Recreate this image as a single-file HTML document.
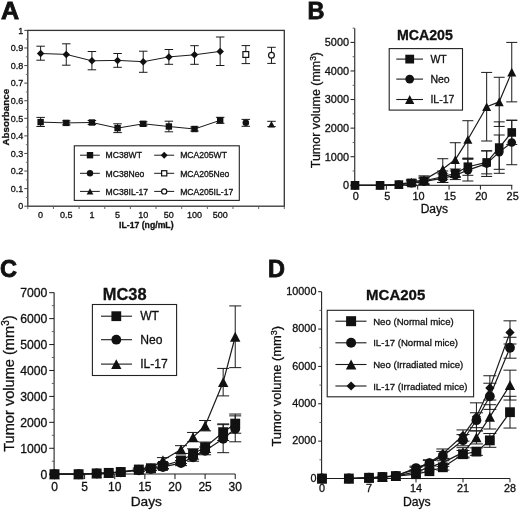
<!DOCTYPE html>
<html><head><meta charset="utf-8"><style>
html,body{margin:0;padding:0;background:#fff;width:520px;height:511px;overflow:hidden}
svg{display:block;filter:grayscale(1)}
text{font-family:"Liberation Sans", sans-serif;fill:#111;stroke:#111;stroke-width:0.3px}
</style></head><body>
<svg width="520" height="511" viewBox="0 0 520 511">
<rect width="520" height="511" fill="#fff"/>
<text transform="translate(1.0,18.9) scale(1.07,1)" font-size="23.5" font-weight="bold" style="stroke-width:0.8px">A</text>
<rect x="27.80" y="30.40" width="256.50" height="175.80" fill="none" stroke="#333" stroke-width="1.3"/>
<line x1="24.30" y1="206.20" x2="27.80" y2="206.20" stroke="#444" stroke-width="1.0"/>
<text x="23.30" y="209.40" font-size="9" text-anchor="end" font-weight="normal">0</text>
<line x1="24.30" y1="188.62" x2="27.80" y2="188.62" stroke="#444" stroke-width="1.0"/>
<text x="23.30" y="191.82" font-size="9" text-anchor="end" font-weight="normal">0.1</text>
<line x1="24.30" y1="171.04" x2="27.80" y2="171.04" stroke="#444" stroke-width="1.0"/>
<text x="23.30" y="174.24" font-size="9" text-anchor="end" font-weight="normal">0.2</text>
<line x1="24.30" y1="153.46" x2="27.80" y2="153.46" stroke="#444" stroke-width="1.0"/>
<text x="23.30" y="156.66" font-size="9" text-anchor="end" font-weight="normal">0.3</text>
<line x1="24.30" y1="135.88" x2="27.80" y2="135.88" stroke="#444" stroke-width="1.0"/>
<text x="23.30" y="139.08" font-size="9" text-anchor="end" font-weight="normal">0.4</text>
<line x1="24.30" y1="118.30" x2="27.80" y2="118.30" stroke="#444" stroke-width="1.0"/>
<text x="23.30" y="121.50" font-size="9" text-anchor="end" font-weight="normal">0.5</text>
<line x1="24.30" y1="100.72" x2="27.80" y2="100.72" stroke="#444" stroke-width="1.0"/>
<text x="23.30" y="103.92" font-size="9" text-anchor="end" font-weight="normal">0.6</text>
<line x1="24.30" y1="83.14" x2="27.80" y2="83.14" stroke="#444" stroke-width="1.0"/>
<text x="23.30" y="86.34" font-size="9" text-anchor="end" font-weight="normal">0.7</text>
<line x1="24.30" y1="65.56" x2="27.80" y2="65.56" stroke="#444" stroke-width="1.0"/>
<text x="23.30" y="68.76" font-size="9" text-anchor="end" font-weight="normal">0.8</text>
<line x1="24.30" y1="47.98" x2="27.80" y2="47.98" stroke="#444" stroke-width="1.0"/>
<text x="23.30" y="51.18" font-size="9" text-anchor="end" font-weight="normal">0.9</text>
<line x1="24.30" y1="30.40" x2="27.80" y2="30.40" stroke="#444" stroke-width="1.0"/>
<text x="23.30" y="33.60" font-size="9" text-anchor="end" font-weight="normal">1</text>
<line x1="25.80" y1="197.41" x2="27.80" y2="197.41" stroke="#666" stroke-width="0.9"/>
<line x1="25.80" y1="179.83" x2="27.80" y2="179.83" stroke="#666" stroke-width="0.9"/>
<line x1="25.80" y1="162.25" x2="27.80" y2="162.25" stroke="#666" stroke-width="0.9"/>
<line x1="25.80" y1="144.67" x2="27.80" y2="144.67" stroke="#666" stroke-width="0.9"/>
<line x1="25.80" y1="127.09" x2="27.80" y2="127.09" stroke="#666" stroke-width="0.9"/>
<line x1="25.80" y1="109.51" x2="27.80" y2="109.51" stroke="#666" stroke-width="0.9"/>
<line x1="25.80" y1="91.93" x2="27.80" y2="91.93" stroke="#666" stroke-width="0.9"/>
<line x1="25.80" y1="74.35" x2="27.80" y2="74.35" stroke="#666" stroke-width="0.9"/>
<line x1="25.80" y1="56.77" x2="27.80" y2="56.77" stroke="#666" stroke-width="0.9"/>
<line x1="25.80" y1="39.19" x2="27.80" y2="39.19" stroke="#666" stroke-width="0.9"/>
<line x1="27.80" y1="206.20" x2="27.80" y2="209.00" stroke="#555" stroke-width="0.9"/>
<line x1="53.45" y1="206.20" x2="53.45" y2="209.00" stroke="#555" stroke-width="0.9"/>
<line x1="79.10" y1="206.20" x2="79.10" y2="209.00" stroke="#555" stroke-width="0.9"/>
<line x1="104.75" y1="206.20" x2="104.75" y2="209.00" stroke="#555" stroke-width="0.9"/>
<line x1="130.40" y1="206.20" x2="130.40" y2="209.00" stroke="#555" stroke-width="0.9"/>
<line x1="156.05" y1="206.20" x2="156.05" y2="209.00" stroke="#555" stroke-width="0.9"/>
<line x1="181.70" y1="206.20" x2="181.70" y2="209.00" stroke="#555" stroke-width="0.9"/>
<line x1="207.35" y1="206.20" x2="207.35" y2="209.00" stroke="#555" stroke-width="0.9"/>
<line x1="233.00" y1="206.20" x2="233.00" y2="209.00" stroke="#555" stroke-width="0.9"/>
<line x1="258.65" y1="206.20" x2="258.65" y2="209.00" stroke="#555" stroke-width="0.9"/>
<line x1="284.30" y1="206.20" x2="284.30" y2="209.00" stroke="#555" stroke-width="0.9"/>
<text x="40.62" y="217.90" font-size="9" text-anchor="middle" font-weight="normal">0</text>
<text x="66.27" y="217.90" font-size="9" text-anchor="middle" font-weight="normal">0.5</text>
<text x="91.92" y="217.90" font-size="9" text-anchor="middle" font-weight="normal">1</text>
<text x="117.57" y="217.90" font-size="9" text-anchor="middle" font-weight="normal">5</text>
<text x="143.22" y="217.90" font-size="9" text-anchor="middle" font-weight="normal">10</text>
<text x="168.88" y="217.90" font-size="9" text-anchor="middle" font-weight="normal">50</text>
<text x="194.53" y="217.90" font-size="9" text-anchor="middle" font-weight="normal">100</text>
<text x="220.18" y="217.90" font-size="9" text-anchor="middle" font-weight="normal">500</text>
<text x="146.30" y="228.00" font-size="8.7" text-anchor="middle" font-weight="bold">IL-17 (ng/mL)</text>
<text transform="translate(8.6,117.2) rotate(-90)" font-size="9.8" font-weight="bold" text-anchor="middle">Absorbance</text>
<polyline points="40.62,53.50 66.27,54.40 91.92,60.80 117.57,60.40 143.22,61.70 168.88,56.90 194.53,54.80 220.18,51.40" fill="none" stroke="#1a1a1a" stroke-width="1.0" stroke-linejoin="round"/>
<polyline points="40.62,122.10 66.27,122.90 91.92,122.50 117.57,128.10 143.22,123.80 168.88,126.50 194.53,129.00 220.18,120.30" fill="none" stroke="#1a1a1a" stroke-width="1.0" stroke-linejoin="round"/>
<line x1="40.62" y1="46.20" x2="40.62" y2="60.20" stroke="#1a1a1a" stroke-width="1.0"/>
<line x1="36.38" y1="46.20" x2="44.88" y2="46.20" stroke="#1a1a1a" stroke-width="1.0"/>
<line x1="36.38" y1="60.20" x2="44.88" y2="60.20" stroke="#1a1a1a" stroke-width="1.0"/>
<polygon points="40.62,49.75 44.38,53.50 40.62,57.25 36.88,53.50" fill="#111"/>
<line x1="66.27" y1="43.80" x2="66.27" y2="65.20" stroke="#1a1a1a" stroke-width="1.0"/>
<line x1="62.02" y1="43.80" x2="70.52" y2="43.80" stroke="#1a1a1a" stroke-width="1.0"/>
<line x1="62.02" y1="65.20" x2="70.52" y2="65.20" stroke="#1a1a1a" stroke-width="1.0"/>
<polygon points="66.27,50.65 70.02,54.40 66.27,58.15 62.52,54.40" fill="#111"/>
<line x1="91.92" y1="51.50" x2="91.92" y2="69.80" stroke="#1a1a1a" stroke-width="1.0"/>
<line x1="87.67" y1="51.50" x2="96.17" y2="51.50" stroke="#1a1a1a" stroke-width="1.0"/>
<line x1="87.67" y1="69.80" x2="96.17" y2="69.80" stroke="#1a1a1a" stroke-width="1.0"/>
<polygon points="91.92,57.05 95.67,60.80 91.92,64.55 88.17,60.80" fill="#111"/>
<line x1="117.57" y1="53.50" x2="117.57" y2="67.30" stroke="#1a1a1a" stroke-width="1.0"/>
<line x1="113.32" y1="53.50" x2="121.82" y2="53.50" stroke="#1a1a1a" stroke-width="1.0"/>
<line x1="113.32" y1="67.30" x2="121.82" y2="67.30" stroke="#1a1a1a" stroke-width="1.0"/>
<polygon points="117.57,56.65 121.32,60.40 117.57,64.15 113.82,60.40" fill="#111"/>
<line x1="143.22" y1="51.20" x2="143.22" y2="72.30" stroke="#1a1a1a" stroke-width="1.0"/>
<line x1="138.97" y1="51.20" x2="147.47" y2="51.20" stroke="#1a1a1a" stroke-width="1.0"/>
<line x1="138.97" y1="72.30" x2="147.47" y2="72.30" stroke="#1a1a1a" stroke-width="1.0"/>
<polygon points="143.22,57.95 146.97,61.70 143.22,65.45 139.47,61.70" fill="#111"/>
<line x1="168.88" y1="49.50" x2="168.88" y2="64.30" stroke="#1a1a1a" stroke-width="1.0"/>
<line x1="164.62" y1="49.50" x2="173.12" y2="49.50" stroke="#1a1a1a" stroke-width="1.0"/>
<line x1="164.62" y1="64.30" x2="173.12" y2="64.30" stroke="#1a1a1a" stroke-width="1.0"/>
<polygon points="168.88,53.15 172.62,56.90 168.88,60.65 165.12,56.90" fill="#111"/>
<line x1="194.53" y1="45.70" x2="194.53" y2="64.30" stroke="#1a1a1a" stroke-width="1.0"/>
<line x1="190.28" y1="45.70" x2="198.78" y2="45.70" stroke="#1a1a1a" stroke-width="1.0"/>
<line x1="190.28" y1="64.30" x2="198.78" y2="64.30" stroke="#1a1a1a" stroke-width="1.0"/>
<polygon points="194.53,51.05 198.28,54.80 194.53,58.55 190.78,54.80" fill="#111"/>
<line x1="220.18" y1="37.00" x2="220.18" y2="65.50" stroke="#1a1a1a" stroke-width="1.0"/>
<line x1="215.93" y1="37.00" x2="224.43" y2="37.00" stroke="#1a1a1a" stroke-width="1.0"/>
<line x1="215.93" y1="65.50" x2="224.43" y2="65.50" stroke="#1a1a1a" stroke-width="1.0"/>
<polygon points="220.18,47.65 223.93,51.40 220.18,55.15 216.43,51.40" fill="#111"/>
<line x1="40.62" y1="117.40" x2="40.62" y2="126.50" stroke="#1a1a1a" stroke-width="1.0"/>
<line x1="36.38" y1="117.40" x2="44.88" y2="117.40" stroke="#1a1a1a" stroke-width="1.0"/>
<line x1="36.38" y1="126.50" x2="44.88" y2="126.50" stroke="#1a1a1a" stroke-width="1.0"/>
<rect x="37.42" y="118.90" width="6.40" height="6.40" fill="#111"/>
<line x1="66.27" y1="120.90" x2="66.27" y2="124.90" stroke="#1a1a1a" stroke-width="1.0"/>
<line x1="62.02" y1="120.90" x2="70.52" y2="120.90" stroke="#1a1a1a" stroke-width="1.0"/>
<line x1="62.02" y1="124.90" x2="70.52" y2="124.90" stroke="#1a1a1a" stroke-width="1.0"/>
<rect x="63.07" y="119.70" width="6.40" height="6.40" fill="#111"/>
<line x1="91.92" y1="120.50" x2="91.92" y2="124.50" stroke="#1a1a1a" stroke-width="1.0"/>
<line x1="87.67" y1="120.50" x2="96.17" y2="120.50" stroke="#1a1a1a" stroke-width="1.0"/>
<line x1="87.67" y1="124.50" x2="96.17" y2="124.50" stroke="#1a1a1a" stroke-width="1.0"/>
<rect x="88.72" y="119.30" width="6.40" height="6.40" fill="#111"/>
<line x1="117.57" y1="123.80" x2="117.57" y2="132.60" stroke="#1a1a1a" stroke-width="1.0"/>
<line x1="113.32" y1="123.80" x2="121.82" y2="123.80" stroke="#1a1a1a" stroke-width="1.0"/>
<line x1="113.32" y1="132.60" x2="121.82" y2="132.60" stroke="#1a1a1a" stroke-width="1.0"/>
<rect x="114.37" y="124.90" width="6.40" height="6.40" fill="#111"/>
<line x1="143.22" y1="121.80" x2="143.22" y2="125.80" stroke="#1a1a1a" stroke-width="1.0"/>
<line x1="138.97" y1="121.80" x2="147.47" y2="121.80" stroke="#1a1a1a" stroke-width="1.0"/>
<line x1="138.97" y1="125.80" x2="147.47" y2="125.80" stroke="#1a1a1a" stroke-width="1.0"/>
<rect x="140.03" y="120.60" width="6.40" height="6.40" fill="#111"/>
<line x1="168.88" y1="121.20" x2="168.88" y2="131.80" stroke="#1a1a1a" stroke-width="1.0"/>
<line x1="164.62" y1="121.20" x2="173.12" y2="121.20" stroke="#1a1a1a" stroke-width="1.0"/>
<line x1="164.62" y1="131.80" x2="173.12" y2="131.80" stroke="#1a1a1a" stroke-width="1.0"/>
<rect x="165.68" y="123.30" width="6.40" height="6.40" fill="#111"/>
<line x1="194.53" y1="127.00" x2="194.53" y2="131.00" stroke="#1a1a1a" stroke-width="1.0"/>
<line x1="190.28" y1="127.00" x2="198.78" y2="127.00" stroke="#1a1a1a" stroke-width="1.0"/>
<line x1="190.28" y1="131.00" x2="198.78" y2="131.00" stroke="#1a1a1a" stroke-width="1.0"/>
<rect x="191.33" y="125.80" width="6.40" height="6.40" fill="#111"/>
<line x1="220.18" y1="117.30" x2="220.18" y2="123.30" stroke="#1a1a1a" stroke-width="1.0"/>
<line x1="215.93" y1="117.30" x2="224.43" y2="117.30" stroke="#1a1a1a" stroke-width="1.0"/>
<line x1="215.93" y1="123.30" x2="224.43" y2="123.30" stroke="#1a1a1a" stroke-width="1.0"/>
<rect x="216.98" y="117.10" width="6.40" height="6.40" fill="#111"/>
<line x1="245.82" y1="45.60" x2="245.82" y2="63.60" stroke="#1a1a1a" stroke-width="1.0"/>
<line x1="241.57" y1="45.60" x2="250.07" y2="45.60" stroke="#1a1a1a" stroke-width="1.0"/>
<line x1="241.57" y1="63.60" x2="250.07" y2="63.60" stroke="#1a1a1a" stroke-width="1.0"/>
<rect x="242.92" y="51.60" width="5.80" height="5.80" fill="#fff" stroke="#111" stroke-width="1.2"/>
<line x1="271.47" y1="47.30" x2="271.47" y2="63.40" stroke="#1a1a1a" stroke-width="1.0"/>
<line x1="267.22" y1="47.30" x2="275.72" y2="47.30" stroke="#1a1a1a" stroke-width="1.0"/>
<line x1="267.22" y1="63.40" x2="275.72" y2="63.40" stroke="#1a1a1a" stroke-width="1.0"/>
<circle cx="271.47" cy="55.20" r="2.90" fill="#fff" stroke="#111" stroke-width="1.2"/>
<line x1="245.82" y1="119.40" x2="245.82" y2="126.30" stroke="#1a1a1a" stroke-width="1.0"/>
<line x1="241.57" y1="119.40" x2="250.07" y2="119.40" stroke="#1a1a1a" stroke-width="1.0"/>
<line x1="241.57" y1="126.30" x2="250.07" y2="126.30" stroke="#1a1a1a" stroke-width="1.0"/>
<circle cx="245.82" cy="122.80" r="3.30" fill="#111"/>
<line x1="271.47" y1="121.30" x2="271.47" y2="126.60" stroke="#1a1a1a" stroke-width="1.0"/>
<line x1="267.22" y1="121.30" x2="275.72" y2="121.30" stroke="#1a1a1a" stroke-width="1.0"/>
<line x1="267.22" y1="126.60" x2="275.72" y2="126.60" stroke="#1a1a1a" stroke-width="1.0"/>
<polygon points="271.47,121.00 274.94,127.60 268.01,127.60" fill="#111"/>
<rect x="74.30" y="145.80" width="165.00" height="54.60" fill="none" stroke="#222" stroke-width="1.1"/>
<line x1="80.00" y1="155.20" x2="99.80" y2="155.20" stroke="#1a1a1a" stroke-width="1.0"/>
<rect x="86.80" y="152.00" width="6.40" height="6.40" fill="#111"/>
<text x="105.60" y="158.40" font-size="8.6" text-anchor="start" font-weight="normal">MC38WT</text>
<line x1="154.20" y1="155.20" x2="174.20" y2="155.20" stroke="#1a1a1a" stroke-width="1.0"/>
<polygon points="164.20,151.76 167.64,155.20 164.20,158.64 160.76,155.20" fill="#111"/>
<text x="180.20" y="158.40" font-size="8.6" text-anchor="start" font-weight="normal">MCA205WT</text>
<line x1="80.00" y1="173.30" x2="99.80" y2="173.30" stroke="#1a1a1a" stroke-width="1.0"/>
<circle cx="90.00" cy="173.30" r="3.20" fill="#111"/>
<text x="105.60" y="176.50" font-size="8.6" text-anchor="start" font-weight="normal">MC38Neo</text>
<line x1="154.20" y1="173.30" x2="174.20" y2="173.30" stroke="#1a1a1a" stroke-width="1.0"/>
<rect x="161.60" y="170.70" width="5.20" height="5.20" fill="#fff" stroke="#111" stroke-width="1.2"/>
<text x="180.20" y="176.50" font-size="8.6" text-anchor="start" font-weight="normal">MCA205Neo</text>
<line x1="80.00" y1="191.40" x2="99.80" y2="191.40" stroke="#1a1a1a" stroke-width="1.0"/>
<polygon points="90.00,188.20 93.36,194.60 86.64,194.60" fill="#111"/>
<text x="105.60" y="194.60" font-size="8.6" text-anchor="start" font-weight="normal">MC38IL-17</text>
<line x1="154.20" y1="191.40" x2="174.20" y2="191.40" stroke="#1a1a1a" stroke-width="1.0"/>
<circle cx="164.20" cy="191.40" r="2.60" fill="#fff" stroke="#111" stroke-width="1.2"/>
<text x="180.20" y="194.60" font-size="8.6" text-anchor="start" font-weight="normal">MCA205IL-17</text>
<text x="307.60" y="18.90" font-size="23.5" text-anchor="start" font-weight="bold" style="stroke-width:0.8px">B</text>
<line x1="354.70" y1="28.20" x2="354.70" y2="185.40" stroke="#444" stroke-width="1.3"/>
<line x1="354.70" y1="185.40" x2="512.30" y2="185.40" stroke="#444" stroke-width="1.3"/>
<line x1="350.50" y1="185.30" x2="354.70" y2="185.30" stroke="#1a1a1a" stroke-width="1.0"/>
<text x="349.00" y="189.10" font-size="10.9" text-anchor="end" font-weight="normal">0</text>
<line x1="350.50" y1="156.72" x2="354.70" y2="156.72" stroke="#1a1a1a" stroke-width="1.0"/>
<text x="349.00" y="160.52" font-size="10.9" text-anchor="end" font-weight="normal">1000</text>
<line x1="350.50" y1="128.14" x2="354.70" y2="128.14" stroke="#1a1a1a" stroke-width="1.0"/>
<text x="349.00" y="131.94" font-size="10.9" text-anchor="end" font-weight="normal">2000</text>
<line x1="350.50" y1="99.56" x2="354.70" y2="99.56" stroke="#1a1a1a" stroke-width="1.0"/>
<text x="349.00" y="103.36" font-size="10.9" text-anchor="end" font-weight="normal">3000</text>
<line x1="350.50" y1="70.98" x2="354.70" y2="70.98" stroke="#1a1a1a" stroke-width="1.0"/>
<text x="349.00" y="74.78" font-size="10.9" text-anchor="end" font-weight="normal">4000</text>
<line x1="350.50" y1="42.40" x2="354.70" y2="42.40" stroke="#1a1a1a" stroke-width="1.0"/>
<text x="349.00" y="46.20" font-size="10.9" text-anchor="end" font-weight="normal">5000</text>
<line x1="352.60" y1="171.01" x2="354.70" y2="171.01" stroke="#555" stroke-width="0.9"/>
<line x1="352.60" y1="142.43" x2="354.70" y2="142.43" stroke="#555" stroke-width="0.9"/>
<line x1="352.60" y1="113.85" x2="354.70" y2="113.85" stroke="#555" stroke-width="0.9"/>
<line x1="352.60" y1="85.27" x2="354.70" y2="85.27" stroke="#555" stroke-width="0.9"/>
<line x1="352.60" y1="56.69" x2="354.70" y2="56.69" stroke="#555" stroke-width="0.9"/>
<line x1="352.60" y1="28.11" x2="354.70" y2="28.11" stroke="#555" stroke-width="0.9"/>
<line x1="355.00" y1="185.40" x2="355.00" y2="189.60" stroke="#1a1a1a" stroke-width="1.0"/>
<text x="355.90" y="200.20" font-size="10.9" text-anchor="middle" font-weight="normal">0</text>
<line x1="386.35" y1="185.40" x2="386.35" y2="189.60" stroke="#1a1a1a" stroke-width="1.0"/>
<text x="387.25" y="200.20" font-size="10.9" text-anchor="middle" font-weight="normal">5</text>
<line x1="417.70" y1="185.40" x2="417.70" y2="189.60" stroke="#1a1a1a" stroke-width="1.0"/>
<text x="418.60" y="200.20" font-size="10.9" text-anchor="middle" font-weight="normal">10</text>
<line x1="449.05" y1="185.40" x2="449.05" y2="189.60" stroke="#1a1a1a" stroke-width="1.0"/>
<text x="449.95" y="200.20" font-size="10.9" text-anchor="middle" font-weight="normal">15</text>
<line x1="480.40" y1="185.40" x2="480.40" y2="189.60" stroke="#1a1a1a" stroke-width="1.0"/>
<text x="481.30" y="200.20" font-size="10.9" text-anchor="middle" font-weight="normal">20</text>
<line x1="511.75" y1="185.40" x2="511.75" y2="189.60" stroke="#1a1a1a" stroke-width="1.0"/>
<text x="512.65" y="200.20" font-size="10.9" text-anchor="middle" font-weight="normal">25</text>
<text x="420.70" y="213.10" font-size="12" text-anchor="start" font-weight="normal">Days</text>
<text transform="translate(319.9,168.2) rotate(-90)" font-size="12.45">Tumor volume (mm<tspan dy="-4" font-size="8.4">3</tspan><tspan dy="4">)</tspan></text>
<text x="396.90" y="40.30" font-size="14.2" text-anchor="start" font-weight="bold">MCA205</text>
<rect x="389.20" y="48.60" width="73.30" height="61.50" fill="none" stroke="#222" stroke-width="1.1"/>
<line x1="396.30" y1="59.10" x2="423.00" y2="59.10" stroke="#1a1a1a" stroke-width="1.1"/>
<rect x="405.30" y="54.70" width="8.80" height="8.80" fill="#111"/>
<text x="430.40" y="62.90" font-size="10.5" text-anchor="start" font-weight="normal">WT</text>
<line x1="396.30" y1="79.10" x2="423.00" y2="79.10" stroke="#1a1a1a" stroke-width="1.1"/>
<circle cx="409.70" cy="79.10" r="4.40" fill="#111"/>
<text x="430.40" y="82.90" font-size="10.5" text-anchor="start" font-weight="normal">Neo</text>
<line x1="396.30" y1="99.50" x2="423.00" y2="99.50" stroke="#1a1a1a" stroke-width="1.1"/>
<polygon points="409.70,95.10 414.32,103.90 405.08,103.90" fill="#111"/>
<text x="430.40" y="103.30" font-size="10.5" text-anchor="start" font-weight="normal">IL-17</text>
<polyline points="355.00,185.30 380.08,185.30 398.89,184.59 411.43,183.01 423.97,180.73 442.78,176.73 455.32,173.30 467.86,166.72 486.67,162.44 499.21,147.57 511.75,132.43" fill="none" stroke="#1a1a1a" stroke-width="1.2" stroke-linejoin="round"/>
<polyline points="355.00,185.30 380.08,185.30 398.89,184.73 411.43,183.30 423.97,181.58 442.78,178.16 455.32,175.30 467.86,170.15 486.67,163.58 499.21,152.15 511.75,142.43" fill="none" stroke="#1a1a1a" stroke-width="1.2" stroke-linejoin="round"/>
<polyline points="355.00,185.30 380.08,185.30 398.89,184.44 411.43,182.16 423.97,179.87 442.78,169.01 455.32,159.58 467.86,139.57 486.67,106.71 499.21,101.85 511.75,72.12" fill="none" stroke="#1a1a1a" stroke-width="1.2" stroke-linejoin="round"/>
<line x1="411.43" y1="179.30" x2="411.43" y2="185.01" stroke="#1a1a1a" stroke-width="1.0"/>
<line x1="405.93" y1="179.30" x2="416.93" y2="179.30" stroke="#1a1a1a" stroke-width="1.0"/>
<line x1="405.93" y1="185.01" x2="416.93" y2="185.01" stroke="#1a1a1a" stroke-width="1.0"/>
<line x1="423.97" y1="175.87" x2="423.97" y2="183.87" stroke="#1a1a1a" stroke-width="1.0"/>
<line x1="418.47" y1="175.87" x2="429.47" y2="175.87" stroke="#1a1a1a" stroke-width="1.0"/>
<line x1="418.47" y1="183.87" x2="429.47" y2="183.87" stroke="#1a1a1a" stroke-width="1.0"/>
<line x1="442.78" y1="158.72" x2="442.78" y2="179.30" stroke="#1a1a1a" stroke-width="1.0"/>
<line x1="437.28" y1="158.72" x2="448.28" y2="158.72" stroke="#1a1a1a" stroke-width="1.0"/>
<line x1="437.28" y1="179.30" x2="448.28" y2="179.30" stroke="#1a1a1a" stroke-width="1.0"/>
<line x1="455.32" y1="142.72" x2="455.32" y2="176.44" stroke="#1a1a1a" stroke-width="1.0"/>
<line x1="449.82" y1="142.72" x2="460.82" y2="142.72" stroke="#1a1a1a" stroke-width="1.0"/>
<line x1="449.82" y1="176.44" x2="460.82" y2="176.44" stroke="#1a1a1a" stroke-width="1.0"/>
<line x1="467.86" y1="120.71" x2="467.86" y2="158.43" stroke="#1a1a1a" stroke-width="1.0"/>
<line x1="462.36" y1="120.71" x2="473.36" y2="120.71" stroke="#1a1a1a" stroke-width="1.0"/>
<line x1="462.36" y1="158.43" x2="473.36" y2="158.43" stroke="#1a1a1a" stroke-width="1.0"/>
<line x1="486.67" y1="72.41" x2="486.67" y2="141.00" stroke="#1a1a1a" stroke-width="1.0"/>
<line x1="481.17" y1="72.41" x2="492.17" y2="72.41" stroke="#1a1a1a" stroke-width="1.0"/>
<line x1="481.17" y1="141.00" x2="492.17" y2="141.00" stroke="#1a1a1a" stroke-width="1.0"/>
<line x1="499.21" y1="77.27" x2="499.21" y2="126.43" stroke="#1a1a1a" stroke-width="1.0"/>
<line x1="493.71" y1="77.27" x2="504.71" y2="77.27" stroke="#1a1a1a" stroke-width="1.0"/>
<line x1="493.71" y1="126.43" x2="504.71" y2="126.43" stroke="#1a1a1a" stroke-width="1.0"/>
<line x1="511.75" y1="42.40" x2="511.75" y2="101.85" stroke="#1a1a1a" stroke-width="1.0"/>
<line x1="506.25" y1="42.40" x2="517.25" y2="42.40" stroke="#1a1a1a" stroke-width="1.0"/>
<line x1="506.25" y1="101.85" x2="517.25" y2="101.85" stroke="#1a1a1a" stroke-width="1.0"/>
<line x1="411.43" y1="180.73" x2="411.43" y2="185.30" stroke="#1a1a1a" stroke-width="1.0"/>
<line x1="405.93" y1="180.73" x2="416.93" y2="180.73" stroke="#1a1a1a" stroke-width="1.0"/>
<line x1="405.93" y1="185.30" x2="416.93" y2="185.30" stroke="#1a1a1a" stroke-width="1.0"/>
<line x1="423.97" y1="177.30" x2="423.97" y2="184.16" stroke="#1a1a1a" stroke-width="1.0"/>
<line x1="418.47" y1="177.30" x2="429.47" y2="177.30" stroke="#1a1a1a" stroke-width="1.0"/>
<line x1="418.47" y1="184.16" x2="429.47" y2="184.16" stroke="#1a1a1a" stroke-width="1.0"/>
<line x1="442.78" y1="171.01" x2="442.78" y2="182.44" stroke="#1a1a1a" stroke-width="1.0"/>
<line x1="437.28" y1="171.01" x2="448.28" y2="171.01" stroke="#1a1a1a" stroke-width="1.0"/>
<line x1="437.28" y1="182.44" x2="448.28" y2="182.44" stroke="#1a1a1a" stroke-width="1.0"/>
<line x1="455.32" y1="169.01" x2="455.32" y2="177.58" stroke="#1a1a1a" stroke-width="1.0"/>
<line x1="449.82" y1="169.01" x2="460.82" y2="169.01" stroke="#1a1a1a" stroke-width="1.0"/>
<line x1="449.82" y1="177.58" x2="460.82" y2="177.58" stroke="#1a1a1a" stroke-width="1.0"/>
<line x1="467.86" y1="158.15" x2="467.86" y2="175.30" stroke="#1a1a1a" stroke-width="1.0"/>
<line x1="462.36" y1="158.15" x2="473.36" y2="158.15" stroke="#1a1a1a" stroke-width="1.0"/>
<line x1="462.36" y1="175.30" x2="473.36" y2="175.30" stroke="#1a1a1a" stroke-width="1.0"/>
<line x1="486.67" y1="151.00" x2="486.67" y2="173.87" stroke="#1a1a1a" stroke-width="1.0"/>
<line x1="481.17" y1="151.00" x2="492.17" y2="151.00" stroke="#1a1a1a" stroke-width="1.0"/>
<line x1="481.17" y1="173.87" x2="492.17" y2="173.87" stroke="#1a1a1a" stroke-width="1.0"/>
<line x1="499.21" y1="121.85" x2="499.21" y2="173.30" stroke="#1a1a1a" stroke-width="1.0"/>
<line x1="493.71" y1="121.85" x2="504.71" y2="121.85" stroke="#1a1a1a" stroke-width="1.0"/>
<line x1="493.71" y1="173.30" x2="504.71" y2="173.30" stroke="#1a1a1a" stroke-width="1.0"/>
<line x1="511.75" y1="120.42" x2="511.75" y2="144.43" stroke="#1a1a1a" stroke-width="1.0"/>
<line x1="506.25" y1="120.42" x2="517.25" y2="120.42" stroke="#1a1a1a" stroke-width="1.0"/>
<line x1="506.25" y1="144.43" x2="517.25" y2="144.43" stroke="#1a1a1a" stroke-width="1.0"/>
<line x1="411.43" y1="181.01" x2="411.43" y2="185.59" stroke="#1a1a1a" stroke-width="1.0"/>
<line x1="405.93" y1="181.01" x2="416.93" y2="181.01" stroke="#1a1a1a" stroke-width="1.0"/>
<line x1="405.93" y1="185.59" x2="416.93" y2="185.59" stroke="#1a1a1a" stroke-width="1.0"/>
<line x1="423.97" y1="178.73" x2="423.97" y2="184.44" stroke="#1a1a1a" stroke-width="1.0"/>
<line x1="418.47" y1="178.73" x2="429.47" y2="178.73" stroke="#1a1a1a" stroke-width="1.0"/>
<line x1="418.47" y1="184.44" x2="429.47" y2="184.44" stroke="#1a1a1a" stroke-width="1.0"/>
<line x1="442.78" y1="173.87" x2="442.78" y2="182.44" stroke="#1a1a1a" stroke-width="1.0"/>
<line x1="437.28" y1="173.87" x2="448.28" y2="173.87" stroke="#1a1a1a" stroke-width="1.0"/>
<line x1="437.28" y1="182.44" x2="448.28" y2="182.44" stroke="#1a1a1a" stroke-width="1.0"/>
<line x1="455.32" y1="171.01" x2="455.32" y2="179.58" stroke="#1a1a1a" stroke-width="1.0"/>
<line x1="449.82" y1="171.01" x2="460.82" y2="171.01" stroke="#1a1a1a" stroke-width="1.0"/>
<line x1="449.82" y1="179.58" x2="460.82" y2="179.58" stroke="#1a1a1a" stroke-width="1.0"/>
<line x1="467.86" y1="159.29" x2="467.86" y2="181.01" stroke="#1a1a1a" stroke-width="1.0"/>
<line x1="462.36" y1="159.29" x2="473.36" y2="159.29" stroke="#1a1a1a" stroke-width="1.0"/>
<line x1="462.36" y1="181.01" x2="473.36" y2="181.01" stroke="#1a1a1a" stroke-width="1.0"/>
<line x1="486.67" y1="150.72" x2="486.67" y2="176.44" stroke="#1a1a1a" stroke-width="1.0"/>
<line x1="481.17" y1="150.72" x2="492.17" y2="150.72" stroke="#1a1a1a" stroke-width="1.0"/>
<line x1="481.17" y1="176.44" x2="492.17" y2="176.44" stroke="#1a1a1a" stroke-width="1.0"/>
<line x1="499.21" y1="135.00" x2="499.21" y2="169.30" stroke="#1a1a1a" stroke-width="1.0"/>
<line x1="493.71" y1="135.00" x2="504.71" y2="135.00" stroke="#1a1a1a" stroke-width="1.0"/>
<line x1="493.71" y1="169.30" x2="504.71" y2="169.30" stroke="#1a1a1a" stroke-width="1.0"/>
<line x1="511.75" y1="120.14" x2="511.75" y2="164.72" stroke="#1a1a1a" stroke-width="1.0"/>
<line x1="506.25" y1="120.14" x2="517.25" y2="120.14" stroke="#1a1a1a" stroke-width="1.0"/>
<line x1="506.25" y1="164.72" x2="517.25" y2="164.72" stroke="#1a1a1a" stroke-width="1.0"/>
<polygon points="355.00,181.00 359.51,189.60 350.49,189.60" fill="#111"/>
<polygon points="380.08,181.00 384.59,189.60 375.56,189.60" fill="#111"/>
<polygon points="398.89,180.14 403.40,188.74 394.38,188.74" fill="#111"/>
<polygon points="411.43,177.86 415.94,186.46 406.92,186.46" fill="#111"/>
<polygon points="423.97,175.57 428.49,184.17 419.46,184.17" fill="#111"/>
<polygon points="442.78,164.71 447.29,173.31 438.26,173.31" fill="#111"/>
<polygon points="455.32,155.28 459.83,163.88 450.81,163.88" fill="#111"/>
<polygon points="467.86,135.27 472.38,143.87 463.35,143.87" fill="#111"/>
<polygon points="486.67,102.41 491.18,111.01 482.15,111.01" fill="#111"/>
<polygon points="499.21,97.55 503.72,106.15 494.69,106.15" fill="#111"/>
<polygon points="511.75,67.82 516.26,76.42 507.24,76.42" fill="#111"/>
<rect x="350.70" y="181.00" width="8.60" height="8.60" fill="#111"/>
<rect x="375.78" y="181.00" width="8.60" height="8.60" fill="#111"/>
<rect x="394.59" y="180.29" width="8.60" height="8.60" fill="#111"/>
<rect x="407.13" y="178.71" width="8.60" height="8.60" fill="#111"/>
<rect x="419.67" y="176.43" width="8.60" height="8.60" fill="#111"/>
<rect x="438.48" y="172.43" width="8.60" height="8.60" fill="#111"/>
<rect x="451.02" y="169.00" width="8.60" height="8.60" fill="#111"/>
<rect x="463.56" y="162.42" width="8.60" height="8.60" fill="#111"/>
<rect x="482.37" y="158.14" width="8.60" height="8.60" fill="#111"/>
<rect x="494.91" y="143.27" width="8.60" height="8.60" fill="#111"/>
<rect x="507.45" y="128.13" width="8.60" height="8.60" fill="#111"/>
<circle cx="355.00" cy="185.30" r="4.30" fill="#111"/>
<circle cx="380.08" cy="185.30" r="4.30" fill="#111"/>
<circle cx="398.89" cy="184.73" r="4.30" fill="#111"/>
<circle cx="411.43" cy="183.30" r="4.30" fill="#111"/>
<circle cx="423.97" cy="181.58" r="4.30" fill="#111"/>
<circle cx="442.78" cy="178.16" r="4.30" fill="#111"/>
<circle cx="455.32" cy="175.30" r="4.30" fill="#111"/>
<circle cx="467.86" cy="170.15" r="4.30" fill="#111"/>
<circle cx="486.67" cy="163.58" r="4.30" fill="#111"/>
<circle cx="499.21" cy="152.15" r="4.30" fill="#111"/>
<circle cx="511.75" cy="142.43" r="4.30" fill="#111"/>
<text x="0.00" y="276.90" font-size="23.5" text-anchor="start" font-weight="bold" style="stroke-width:0.8px">C</text>
<line x1="54.10" y1="292.60" x2="54.10" y2="474.20" stroke="#222" stroke-width="1.1"/>
<line x1="54.10" y1="474.00" x2="235.20" y2="474.00" stroke="#222" stroke-width="1.1"/>
<line x1="49.20" y1="474.20" x2="54.10" y2="474.20" stroke="#1a1a1a" stroke-width="1.0"/>
<text x="47.30" y="478.70" font-size="12.2" text-anchor="end" font-weight="normal">0</text>
<line x1="49.20" y1="448.27" x2="54.10" y2="448.27" stroke="#1a1a1a" stroke-width="1.0"/>
<text x="47.30" y="452.77" font-size="12.2" text-anchor="end" font-weight="normal">1000</text>
<line x1="49.20" y1="422.34" x2="54.10" y2="422.34" stroke="#1a1a1a" stroke-width="1.0"/>
<text x="47.30" y="426.84" font-size="12.2" text-anchor="end" font-weight="normal">2000</text>
<line x1="49.20" y1="396.41" x2="54.10" y2="396.41" stroke="#1a1a1a" stroke-width="1.0"/>
<text x="47.30" y="400.91" font-size="12.2" text-anchor="end" font-weight="normal">3000</text>
<line x1="49.20" y1="370.48" x2="54.10" y2="370.48" stroke="#1a1a1a" stroke-width="1.0"/>
<text x="47.30" y="374.98" font-size="12.2" text-anchor="end" font-weight="normal">4000</text>
<line x1="49.20" y1="344.55" x2="54.10" y2="344.55" stroke="#1a1a1a" stroke-width="1.0"/>
<text x="47.30" y="349.05" font-size="12.2" text-anchor="end" font-weight="normal">5000</text>
<line x1="49.20" y1="318.62" x2="54.10" y2="318.62" stroke="#1a1a1a" stroke-width="1.0"/>
<text x="47.30" y="323.12" font-size="12.2" text-anchor="end" font-weight="normal">6000</text>
<line x1="49.20" y1="292.69" x2="54.10" y2="292.69" stroke="#1a1a1a" stroke-width="1.0"/>
<text x="47.30" y="297.19" font-size="12.2" text-anchor="end" font-weight="normal">7000</text>
<line x1="51.80" y1="461.24" x2="54.10" y2="461.24" stroke="#555" stroke-width="0.9"/>
<line x1="51.80" y1="435.31" x2="54.10" y2="435.31" stroke="#555" stroke-width="0.9"/>
<line x1="51.80" y1="409.38" x2="54.10" y2="409.38" stroke="#555" stroke-width="0.9"/>
<line x1="51.80" y1="383.44" x2="54.10" y2="383.44" stroke="#555" stroke-width="0.9"/>
<line x1="51.80" y1="357.51" x2="54.10" y2="357.51" stroke="#555" stroke-width="0.9"/>
<line x1="51.80" y1="331.58" x2="54.10" y2="331.58" stroke="#555" stroke-width="0.9"/>
<line x1="51.80" y1="305.65" x2="54.10" y2="305.65" stroke="#555" stroke-width="0.9"/>
<line x1="54.50" y1="474.00" x2="54.50" y2="479.10" stroke="#1a1a1a" stroke-width="1.0"/>
<text x="54.50" y="491.00" font-size="12" text-anchor="middle" font-weight="normal">0</text>
<line x1="84.62" y1="474.00" x2="84.62" y2="479.10" stroke="#1a1a1a" stroke-width="1.0"/>
<text x="84.62" y="491.00" font-size="12" text-anchor="middle" font-weight="normal">5</text>
<line x1="114.74" y1="474.00" x2="114.74" y2="479.10" stroke="#1a1a1a" stroke-width="1.0"/>
<text x="114.74" y="491.00" font-size="12" text-anchor="middle" font-weight="normal">10</text>
<line x1="144.86" y1="474.00" x2="144.86" y2="479.10" stroke="#1a1a1a" stroke-width="1.0"/>
<text x="144.86" y="491.00" font-size="12" text-anchor="middle" font-weight="normal">15</text>
<line x1="174.98" y1="474.00" x2="174.98" y2="479.10" stroke="#1a1a1a" stroke-width="1.0"/>
<text x="174.98" y="491.00" font-size="12" text-anchor="middle" font-weight="normal">20</text>
<line x1="205.10" y1="474.00" x2="205.10" y2="479.10" stroke="#1a1a1a" stroke-width="1.0"/>
<text x="205.10" y="491.00" font-size="12" text-anchor="middle" font-weight="normal">25</text>
<line x1="235.22" y1="474.00" x2="235.22" y2="479.10" stroke="#1a1a1a" stroke-width="1.0"/>
<text x="235.22" y="491.00" font-size="12" text-anchor="middle" font-weight="normal">30</text>
<text x="130.70" y="505.80" font-size="13.7" text-anchor="start" font-weight="normal">Days</text>
<text transform="translate(14.2,451.8) rotate(-90)" font-size="14.6">Tumor volume (mm<tspan dy="-5" font-size="10">3</tspan><tspan dy="5">)</tspan></text>
<text x="102.80" y="300.20" font-size="16.4" text-anchor="start" font-weight="bold">MC38</text>
<rect x="92.40" y="304.50" width="84.20" height="71.00" fill="none" stroke="#222" stroke-width="1.1"/>
<line x1="101.00" y1="316.20" x2="132.00" y2="316.20" stroke="#1a1a1a" stroke-width="1.1"/>
<rect x="111.40" y="311.30" width="9.80" height="9.80" fill="#111"/>
<text x="140.20" y="320.10" font-size="12.1" text-anchor="start" font-weight="normal">WT</text>
<line x1="101.00" y1="339.70" x2="132.00" y2="339.70" stroke="#1a1a1a" stroke-width="1.1"/>
<circle cx="116.30" cy="339.70" r="4.90" fill="#111"/>
<text x="140.20" y="343.60" font-size="12.1" text-anchor="start" font-weight="normal">Neo</text>
<line x1="101.00" y1="364.10" x2="132.00" y2="364.10" stroke="#1a1a1a" stroke-width="1.1"/>
<polygon points="116.30,359.20 121.44,369.00 111.16,369.00" fill="#111"/>
<text x="140.20" y="368.00" font-size="12.1" text-anchor="start" font-weight="normal">IL-17</text>
<polyline points="54.50,474.20 78.60,474.20 96.67,473.42 108.72,472.90 120.76,472.00 138.84,469.53 150.88,468.24 162.93,465.90 181.00,460.46 193.05,453.97 205.10,447.23 223.17,432.19 235.22,423.64" fill="none" stroke="#1a1a1a" stroke-width="1.2" stroke-linejoin="round"/>
<polyline points="54.50,474.20 78.60,474.20 96.67,473.55 108.72,473.03 120.76,472.26 138.84,470.31 150.88,469.01 162.93,466.94 181.00,463.05 193.05,457.35 205.10,450.86 223.17,438.68 235.22,428.82" fill="none" stroke="#1a1a1a" stroke-width="1.2" stroke-linejoin="round"/>
<polyline points="54.50,474.20 78.60,474.20 96.67,473.42 108.72,472.77 120.76,471.87 138.84,469.53 150.88,467.98 162.93,460.20 181.00,449.57 193.05,437.12 205.10,425.71 223.17,382.15 235.22,336.77" fill="none" stroke="#1a1a1a" stroke-width="1.2" stroke-linejoin="round"/>
<line x1="162.93" y1="457.60" x2="162.93" y2="462.79" stroke="#1a1a1a" stroke-width="1.0"/>
<line x1="156.93" y1="457.60" x2="168.93" y2="457.60" stroke="#1a1a1a" stroke-width="1.0"/>
<line x1="156.93" y1="462.79" x2="168.93" y2="462.79" stroke="#1a1a1a" stroke-width="1.0"/>
<line x1="181.00" y1="445.68" x2="181.00" y2="453.46" stroke="#1a1a1a" stroke-width="1.0"/>
<line x1="175.00" y1="445.68" x2="187.00" y2="445.68" stroke="#1a1a1a" stroke-width="1.0"/>
<line x1="175.00" y1="453.46" x2="187.00" y2="453.46" stroke="#1a1a1a" stroke-width="1.0"/>
<line x1="193.05" y1="432.45" x2="193.05" y2="441.79" stroke="#1a1a1a" stroke-width="1.0"/>
<line x1="187.05" y1="432.45" x2="199.05" y2="432.45" stroke="#1a1a1a" stroke-width="1.0"/>
<line x1="187.05" y1="441.79" x2="199.05" y2="441.79" stroke="#1a1a1a" stroke-width="1.0"/>
<line x1="205.10" y1="420.52" x2="205.10" y2="430.90" stroke="#1a1a1a" stroke-width="1.0"/>
<line x1="199.10" y1="420.52" x2="211.10" y2="420.52" stroke="#1a1a1a" stroke-width="1.0"/>
<line x1="199.10" y1="430.90" x2="211.10" y2="430.90" stroke="#1a1a1a" stroke-width="1.0"/>
<line x1="223.17" y1="368.41" x2="223.17" y2="395.89" stroke="#1a1a1a" stroke-width="1.0"/>
<line x1="217.17" y1="368.41" x2="229.17" y2="368.41" stroke="#1a1a1a" stroke-width="1.0"/>
<line x1="217.17" y1="395.89" x2="229.17" y2="395.89" stroke="#1a1a1a" stroke-width="1.0"/>
<line x1="235.22" y1="305.91" x2="235.22" y2="367.63" stroke="#1a1a1a" stroke-width="1.0"/>
<line x1="229.22" y1="305.91" x2="241.22" y2="305.91" stroke="#1a1a1a" stroke-width="1.0"/>
<line x1="229.22" y1="367.63" x2="241.22" y2="367.63" stroke="#1a1a1a" stroke-width="1.0"/>
<line x1="138.84" y1="467.98" x2="138.84" y2="471.09" stroke="#1a1a1a" stroke-width="1.0"/>
<line x1="132.84" y1="467.98" x2="144.84" y2="467.98" stroke="#1a1a1a" stroke-width="1.0"/>
<line x1="132.84" y1="471.09" x2="144.84" y2="471.09" stroke="#1a1a1a" stroke-width="1.0"/>
<line x1="150.88" y1="466.16" x2="150.88" y2="470.31" stroke="#1a1a1a" stroke-width="1.0"/>
<line x1="144.88" y1="466.16" x2="156.88" y2="466.16" stroke="#1a1a1a" stroke-width="1.0"/>
<line x1="144.88" y1="470.31" x2="156.88" y2="470.31" stroke="#1a1a1a" stroke-width="1.0"/>
<line x1="162.93" y1="463.31" x2="162.93" y2="468.50" stroke="#1a1a1a" stroke-width="1.0"/>
<line x1="156.93" y1="463.31" x2="168.93" y2="463.31" stroke="#1a1a1a" stroke-width="1.0"/>
<line x1="156.93" y1="468.50" x2="168.93" y2="468.50" stroke="#1a1a1a" stroke-width="1.0"/>
<line x1="181.00" y1="457.35" x2="181.00" y2="463.57" stroke="#1a1a1a" stroke-width="1.0"/>
<line x1="175.00" y1="457.35" x2="187.00" y2="457.35" stroke="#1a1a1a" stroke-width="1.0"/>
<line x1="175.00" y1="463.57" x2="187.00" y2="463.57" stroke="#1a1a1a" stroke-width="1.0"/>
<line x1="193.05" y1="448.79" x2="193.05" y2="459.16" stroke="#1a1a1a" stroke-width="1.0"/>
<line x1="187.05" y1="448.79" x2="199.05" y2="448.79" stroke="#1a1a1a" stroke-width="1.0"/>
<line x1="187.05" y1="459.16" x2="199.05" y2="459.16" stroke="#1a1a1a" stroke-width="1.0"/>
<line x1="205.10" y1="442.05" x2="205.10" y2="452.42" stroke="#1a1a1a" stroke-width="1.0"/>
<line x1="199.10" y1="442.05" x2="211.10" y2="442.05" stroke="#1a1a1a" stroke-width="1.0"/>
<line x1="199.10" y1="452.42" x2="211.10" y2="452.42" stroke="#1a1a1a" stroke-width="1.0"/>
<line x1="223.17" y1="423.90" x2="223.17" y2="440.49" stroke="#1a1a1a" stroke-width="1.0"/>
<line x1="217.17" y1="423.90" x2="229.17" y2="423.90" stroke="#1a1a1a" stroke-width="1.0"/>
<line x1="217.17" y1="440.49" x2="229.17" y2="440.49" stroke="#1a1a1a" stroke-width="1.0"/>
<line x1="235.22" y1="414.04" x2="235.22" y2="433.23" stroke="#1a1a1a" stroke-width="1.0"/>
<line x1="229.22" y1="414.04" x2="241.22" y2="414.04" stroke="#1a1a1a" stroke-width="1.0"/>
<line x1="229.22" y1="433.23" x2="241.22" y2="433.23" stroke="#1a1a1a" stroke-width="1.0"/>
<line x1="138.84" y1="469.01" x2="138.84" y2="471.61" stroke="#1a1a1a" stroke-width="1.0"/>
<line x1="132.84" y1="469.01" x2="144.84" y2="469.01" stroke="#1a1a1a" stroke-width="1.0"/>
<line x1="132.84" y1="471.61" x2="144.84" y2="471.61" stroke="#1a1a1a" stroke-width="1.0"/>
<line x1="150.88" y1="467.46" x2="150.88" y2="470.57" stroke="#1a1a1a" stroke-width="1.0"/>
<line x1="144.88" y1="467.46" x2="156.88" y2="467.46" stroke="#1a1a1a" stroke-width="1.0"/>
<line x1="144.88" y1="470.57" x2="156.88" y2="470.57" stroke="#1a1a1a" stroke-width="1.0"/>
<line x1="162.93" y1="464.87" x2="162.93" y2="469.01" stroke="#1a1a1a" stroke-width="1.0"/>
<line x1="156.93" y1="464.87" x2="168.93" y2="464.87" stroke="#1a1a1a" stroke-width="1.0"/>
<line x1="156.93" y1="469.01" x2="168.93" y2="469.01" stroke="#1a1a1a" stroke-width="1.0"/>
<line x1="181.00" y1="460.46" x2="181.00" y2="465.64" stroke="#1a1a1a" stroke-width="1.0"/>
<line x1="175.00" y1="460.46" x2="187.00" y2="460.46" stroke="#1a1a1a" stroke-width="1.0"/>
<line x1="175.00" y1="465.64" x2="187.00" y2="465.64" stroke="#1a1a1a" stroke-width="1.0"/>
<line x1="193.05" y1="453.46" x2="193.05" y2="461.24" stroke="#1a1a1a" stroke-width="1.0"/>
<line x1="187.05" y1="453.46" x2="199.05" y2="453.46" stroke="#1a1a1a" stroke-width="1.0"/>
<line x1="187.05" y1="461.24" x2="199.05" y2="461.24" stroke="#1a1a1a" stroke-width="1.0"/>
<line x1="205.10" y1="446.97" x2="205.10" y2="454.75" stroke="#1a1a1a" stroke-width="1.0"/>
<line x1="199.10" y1="446.97" x2="211.10" y2="446.97" stroke="#1a1a1a" stroke-width="1.0"/>
<line x1="199.10" y1="454.75" x2="211.10" y2="454.75" stroke="#1a1a1a" stroke-width="1.0"/>
<line x1="223.17" y1="424.67" x2="223.17" y2="452.68" stroke="#1a1a1a" stroke-width="1.0"/>
<line x1="217.17" y1="424.67" x2="229.17" y2="424.67" stroke="#1a1a1a" stroke-width="1.0"/>
<line x1="217.17" y1="452.68" x2="229.17" y2="452.68" stroke="#1a1a1a" stroke-width="1.0"/>
<line x1="235.22" y1="415.86" x2="235.22" y2="441.79" stroke="#1a1a1a" stroke-width="1.0"/>
<line x1="229.22" y1="415.86" x2="241.22" y2="415.86" stroke="#1a1a1a" stroke-width="1.0"/>
<line x1="229.22" y1="441.79" x2="241.22" y2="441.79" stroke="#1a1a1a" stroke-width="1.0"/>
<polygon points="54.50,469.25 59.70,479.15 49.30,479.15" fill="#111"/>
<polygon points="78.60,469.25 83.79,479.15 73.40,479.15" fill="#111"/>
<polygon points="96.67,468.47 101.87,478.37 91.47,478.37" fill="#111"/>
<polygon points="108.72,467.82 113.91,477.72 103.52,477.72" fill="#111"/>
<polygon points="120.76,466.92 125.96,476.82 115.57,476.82" fill="#111"/>
<polygon points="138.84,464.58 144.03,474.48 133.64,474.48" fill="#111"/>
<polygon points="150.88,463.03 156.08,472.93 145.69,472.93" fill="#111"/>
<polygon points="162.93,455.25 168.13,465.15 157.73,465.15" fill="#111"/>
<polygon points="181.00,444.62 186.20,454.52 175.81,454.52" fill="#111"/>
<polygon points="193.05,432.17 198.25,442.07 187.85,442.07" fill="#111"/>
<polygon points="205.10,420.76 210.30,430.66 199.90,430.66" fill="#111"/>
<polygon points="223.17,377.20 228.37,387.10 217.97,387.10" fill="#111"/>
<polygon points="235.22,331.82 240.42,341.72 230.02,341.72" fill="#111"/>
<rect x="49.55" y="469.25" width="9.90" height="9.90" fill="#111"/>
<rect x="73.65" y="469.25" width="9.90" height="9.90" fill="#111"/>
<rect x="91.72" y="468.47" width="9.90" height="9.90" fill="#111"/>
<rect x="103.77" y="467.95" width="9.90" height="9.90" fill="#111"/>
<rect x="115.81" y="467.05" width="9.90" height="9.90" fill="#111"/>
<rect x="133.89" y="464.58" width="9.90" height="9.90" fill="#111"/>
<rect x="145.93" y="463.29" width="9.90" height="9.90" fill="#111"/>
<rect x="157.98" y="460.95" width="9.90" height="9.90" fill="#111"/>
<rect x="176.05" y="455.51" width="9.90" height="9.90" fill="#111"/>
<rect x="188.10" y="449.02" width="9.90" height="9.90" fill="#111"/>
<rect x="200.15" y="442.28" width="9.90" height="9.90" fill="#111"/>
<rect x="218.22" y="427.24" width="9.90" height="9.90" fill="#111"/>
<rect x="230.27" y="418.69" width="9.90" height="9.90" fill="#111"/>
<circle cx="54.50" cy="474.20" r="4.95" fill="#111"/>
<circle cx="78.60" cy="474.20" r="4.95" fill="#111"/>
<circle cx="96.67" cy="473.55" r="4.95" fill="#111"/>
<circle cx="108.72" cy="473.03" r="4.95" fill="#111"/>
<circle cx="120.76" cy="472.26" r="4.95" fill="#111"/>
<circle cx="138.84" cy="470.31" r="4.95" fill="#111"/>
<circle cx="150.88" cy="469.01" r="4.95" fill="#111"/>
<circle cx="162.93" cy="466.94" r="4.95" fill="#111"/>
<circle cx="181.00" cy="463.05" r="4.95" fill="#111"/>
<circle cx="193.05" cy="457.35" r="4.95" fill="#111"/>
<circle cx="205.10" cy="450.86" r="4.95" fill="#111"/>
<circle cx="223.17" cy="438.68" r="4.95" fill="#111"/>
<circle cx="235.22" cy="428.82" r="4.95" fill="#111"/>
<text x="268.00" y="276.95" font-size="23.5" text-anchor="start" font-weight="bold" style="stroke-width:0.8px">D</text>
<line x1="321.60" y1="291.70" x2="321.60" y2="478.50" stroke="#222" stroke-width="1.1"/>
<line x1="321.60" y1="478.50" x2="510.00" y2="478.50" stroke="#222" stroke-width="1.1"/>
<line x1="318.20" y1="478.50" x2="321.60" y2="478.50" stroke="#1a1a1a" stroke-width="1.0"/>
<text x="316.40" y="481.70" font-size="10.8" text-anchor="end" font-weight="normal">0</text>
<line x1="318.20" y1="441.14" x2="321.60" y2="441.14" stroke="#1a1a1a" stroke-width="1.0"/>
<text x="316.40" y="444.34" font-size="10.8" text-anchor="end" font-weight="normal">2000</text>
<line x1="318.20" y1="403.78" x2="321.60" y2="403.78" stroke="#1a1a1a" stroke-width="1.0"/>
<text x="316.40" y="406.98" font-size="10.8" text-anchor="end" font-weight="normal">4000</text>
<line x1="318.20" y1="366.42" x2="321.60" y2="366.42" stroke="#1a1a1a" stroke-width="1.0"/>
<text x="316.40" y="369.62" font-size="10.8" text-anchor="end" font-weight="normal">6000</text>
<line x1="318.20" y1="329.06" x2="321.60" y2="329.06" stroke="#1a1a1a" stroke-width="1.0"/>
<text x="316.40" y="332.26" font-size="10.8" text-anchor="end" font-weight="normal">8000</text>
<line x1="318.20" y1="291.70" x2="321.60" y2="291.70" stroke="#1a1a1a" stroke-width="1.0"/>
<text x="316.40" y="294.90" font-size="10.8" text-anchor="end" font-weight="normal">10000</text>
<line x1="319.40" y1="459.82" x2="321.60" y2="459.82" stroke="#555" stroke-width="0.9"/>
<line x1="319.40" y1="422.46" x2="321.60" y2="422.46" stroke="#555" stroke-width="0.9"/>
<line x1="319.40" y1="385.10" x2="321.60" y2="385.10" stroke="#555" stroke-width="0.9"/>
<line x1="319.40" y1="347.74" x2="321.60" y2="347.74" stroke="#555" stroke-width="0.9"/>
<line x1="319.40" y1="310.38" x2="321.60" y2="310.38" stroke="#555" stroke-width="0.9"/>
<line x1="322.00" y1="478.50" x2="322.00" y2="482.40" stroke="#1a1a1a" stroke-width="1.0"/>
<text x="322.00" y="492.30" font-size="10.8" text-anchor="middle" font-weight="normal">0</text>
<line x1="369.00" y1="478.50" x2="369.00" y2="482.40" stroke="#1a1a1a" stroke-width="1.0"/>
<text x="369.00" y="492.30" font-size="10.8" text-anchor="middle" font-weight="normal">7</text>
<line x1="416.00" y1="478.50" x2="416.00" y2="482.40" stroke="#1a1a1a" stroke-width="1.0"/>
<text x="416.00" y="492.30" font-size="10.8" text-anchor="middle" font-weight="normal">14</text>
<line x1="462.99" y1="478.50" x2="462.99" y2="482.40" stroke="#1a1a1a" stroke-width="1.0"/>
<text x="462.99" y="492.30" font-size="10.8" text-anchor="middle" font-weight="normal">21</text>
<line x1="509.99" y1="478.50" x2="509.99" y2="482.40" stroke="#1a1a1a" stroke-width="1.0"/>
<text x="509.99" y="492.30" font-size="10.8" text-anchor="middle" font-weight="normal">28</text>
<text x="402.90" y="505.70" font-size="12.2" text-anchor="start" font-weight="normal">Days</text>
<text transform="translate(281.4,446.6) rotate(-90)" font-size="12.9">Tumor volume (mm<tspan dy="-4.5" font-size="9">3</tspan><tspan dy="4.5">)</tspan></text>
<text x="366.10" y="300.30" font-size="15" text-anchor="start" font-weight="bold">MCA205</text>
<rect x="327.20" y="310.30" width="146.40" height="86.50" fill="none" stroke="#222" stroke-width="1.1"/>
<line x1="335.40" y1="321.20" x2="366.50" y2="321.20" stroke="#1a1a1a" stroke-width="1.1"/>
<rect x="346.10" y="316.20" width="10.00" height="10.00" fill="#111"/>
<text x="373.20" y="324.70" font-size="9.6" text-anchor="start" font-weight="normal">Neo (Normal mice)</text>
<line x1="335.40" y1="342.80" x2="366.50" y2="342.80" stroke="#1a1a1a" stroke-width="1.1"/>
<circle cx="351.10" cy="342.80" r="5.00" fill="#111"/>
<text x="373.20" y="346.30" font-size="9.6" text-anchor="start" font-weight="normal">IL-17 (Normal mice)</text>
<line x1="335.40" y1="364.50" x2="366.50" y2="364.50" stroke="#1a1a1a" stroke-width="1.1"/>
<polygon points="351.10,359.50 356.35,369.50 345.85,369.50" fill="#111"/>
<text x="373.20" y="368.00" font-size="9.6" text-anchor="start" font-weight="normal">Neo (Irradiated mice)</text>
<line x1="335.40" y1="386.00" x2="366.50" y2="386.00" stroke="#1a1a1a" stroke-width="1.1"/>
<polygon points="351.10,381.38 355.73,386.00 351.10,390.62 346.48,386.00" fill="#111"/>
<text x="373.20" y="389.50" font-size="9.6" text-anchor="start" font-weight="normal">IL-17 (Irradiated mice)</text>
<polyline points="322.00,478.50 348.86,478.50 369.00,477.75 382.43,477.01 395.85,476.07 416.00,474.20 429.42,471.21 442.85,467.29 462.99,454.22 476.42,451.60 489.85,440.39 509.99,412.19" fill="none" stroke="#1a1a1a" stroke-width="1.2" stroke-linejoin="round"/>
<polyline points="322.00,478.50 348.86,478.50 369.00,477.75 382.43,477.01 395.85,475.88 416.00,468.04 429.42,463.18 442.85,456.08 462.99,440.21 476.42,420.22 489.85,396.31 509.99,347.74" fill="none" stroke="#1a1a1a" stroke-width="1.2" stroke-linejoin="round"/>
<polyline points="322.00,478.50 348.86,478.50 369.00,477.75 382.43,477.01 395.85,476.07 416.00,471.96 429.42,467.29 442.85,462.62 462.99,452.35 476.42,437.40 489.85,416.86 509.99,385.10" fill="none" stroke="#1a1a1a" stroke-width="1.2" stroke-linejoin="round"/>
<polyline points="322.00,478.50 348.86,478.50 369.00,477.75 382.43,477.01 395.85,475.70 416.00,469.16 429.42,462.62 442.85,453.66 462.99,435.54 476.42,416.86 489.85,387.90 509.99,332.42" fill="none" stroke="#1a1a1a" stroke-width="1.2" stroke-linejoin="round"/>
<line x1="442.85" y1="464.49" x2="442.85" y2="470.09" stroke="#1a1a1a" stroke-width="1.0"/>
<line x1="436.35" y1="464.49" x2="449.35" y2="464.49" stroke="#1a1a1a" stroke-width="1.0"/>
<line x1="436.35" y1="470.09" x2="449.35" y2="470.09" stroke="#1a1a1a" stroke-width="1.0"/>
<line x1="462.99" y1="450.48" x2="462.99" y2="457.95" stroke="#1a1a1a" stroke-width="1.0"/>
<line x1="456.49" y1="450.48" x2="469.49" y2="450.48" stroke="#1a1a1a" stroke-width="1.0"/>
<line x1="456.49" y1="457.95" x2="469.49" y2="457.95" stroke="#1a1a1a" stroke-width="1.0"/>
<line x1="476.42" y1="447.86" x2="476.42" y2="455.34" stroke="#1a1a1a" stroke-width="1.0"/>
<line x1="469.92" y1="447.86" x2="482.92" y2="447.86" stroke="#1a1a1a" stroke-width="1.0"/>
<line x1="469.92" y1="455.34" x2="482.92" y2="455.34" stroke="#1a1a1a" stroke-width="1.0"/>
<line x1="489.85" y1="433.48" x2="489.85" y2="447.30" stroke="#1a1a1a" stroke-width="1.0"/>
<line x1="483.35" y1="433.48" x2="496.35" y2="433.48" stroke="#1a1a1a" stroke-width="1.0"/>
<line x1="483.35" y1="447.30" x2="496.35" y2="447.30" stroke="#1a1a1a" stroke-width="1.0"/>
<line x1="509.99" y1="396.31" x2="509.99" y2="428.06" stroke="#1a1a1a" stroke-width="1.0"/>
<line x1="503.49" y1="396.31" x2="516.49" y2="396.31" stroke="#1a1a1a" stroke-width="1.0"/>
<line x1="503.49" y1="428.06" x2="516.49" y2="428.06" stroke="#1a1a1a" stroke-width="1.0"/>
<line x1="416.00" y1="466.17" x2="416.00" y2="469.91" stroke="#1a1a1a" stroke-width="1.0"/>
<line x1="409.50" y1="466.17" x2="422.50" y2="466.17" stroke="#1a1a1a" stroke-width="1.0"/>
<line x1="409.50" y1="469.91" x2="422.50" y2="469.91" stroke="#1a1a1a" stroke-width="1.0"/>
<line x1="429.42" y1="460.38" x2="429.42" y2="465.98" stroke="#1a1a1a" stroke-width="1.0"/>
<line x1="422.92" y1="460.38" x2="435.92" y2="460.38" stroke="#1a1a1a" stroke-width="1.0"/>
<line x1="422.92" y1="465.98" x2="435.92" y2="465.98" stroke="#1a1a1a" stroke-width="1.0"/>
<line x1="442.85" y1="451.41" x2="442.85" y2="460.75" stroke="#1a1a1a" stroke-width="1.0"/>
<line x1="436.35" y1="451.41" x2="449.35" y2="451.41" stroke="#1a1a1a" stroke-width="1.0"/>
<line x1="436.35" y1="460.75" x2="449.35" y2="460.75" stroke="#1a1a1a" stroke-width="1.0"/>
<line x1="462.99" y1="434.60" x2="462.99" y2="445.81" stroke="#1a1a1a" stroke-width="1.0"/>
<line x1="456.49" y1="434.60" x2="469.49" y2="434.60" stroke="#1a1a1a" stroke-width="1.0"/>
<line x1="456.49" y1="445.81" x2="469.49" y2="445.81" stroke="#1a1a1a" stroke-width="1.0"/>
<line x1="476.42" y1="412.75" x2="476.42" y2="427.69" stroke="#1a1a1a" stroke-width="1.0"/>
<line x1="469.92" y1="412.75" x2="482.92" y2="412.75" stroke="#1a1a1a" stroke-width="1.0"/>
<line x1="469.92" y1="427.69" x2="482.92" y2="427.69" stroke="#1a1a1a" stroke-width="1.0"/>
<line x1="489.85" y1="383.23" x2="489.85" y2="409.38" stroke="#1a1a1a" stroke-width="1.0"/>
<line x1="483.35" y1="383.23" x2="496.35" y2="383.23" stroke="#1a1a1a" stroke-width="1.0"/>
<line x1="483.35" y1="409.38" x2="496.35" y2="409.38" stroke="#1a1a1a" stroke-width="1.0"/>
<line x1="509.99" y1="337.28" x2="509.99" y2="358.20" stroke="#1a1a1a" stroke-width="1.0"/>
<line x1="503.49" y1="337.28" x2="516.49" y2="337.28" stroke="#1a1a1a" stroke-width="1.0"/>
<line x1="503.49" y1="358.20" x2="516.49" y2="358.20" stroke="#1a1a1a" stroke-width="1.0"/>
<line x1="429.42" y1="465.42" x2="429.42" y2="469.16" stroke="#1a1a1a" stroke-width="1.0"/>
<line x1="422.92" y1="465.42" x2="435.92" y2="465.42" stroke="#1a1a1a" stroke-width="1.0"/>
<line x1="422.92" y1="469.16" x2="435.92" y2="469.16" stroke="#1a1a1a" stroke-width="1.0"/>
<line x1="442.85" y1="458.89" x2="442.85" y2="466.36" stroke="#1a1a1a" stroke-width="1.0"/>
<line x1="436.35" y1="458.89" x2="449.35" y2="458.89" stroke="#1a1a1a" stroke-width="1.0"/>
<line x1="436.35" y1="466.36" x2="449.35" y2="466.36" stroke="#1a1a1a" stroke-width="1.0"/>
<line x1="462.99" y1="447.68" x2="462.99" y2="457.02" stroke="#1a1a1a" stroke-width="1.0"/>
<line x1="456.49" y1="447.68" x2="469.49" y2="447.68" stroke="#1a1a1a" stroke-width="1.0"/>
<line x1="456.49" y1="457.02" x2="469.49" y2="457.02" stroke="#1a1a1a" stroke-width="1.0"/>
<line x1="476.42" y1="430.87" x2="476.42" y2="443.94" stroke="#1a1a1a" stroke-width="1.0"/>
<line x1="469.92" y1="430.87" x2="482.92" y2="430.87" stroke="#1a1a1a" stroke-width="1.0"/>
<line x1="469.92" y1="443.94" x2="482.92" y2="443.94" stroke="#1a1a1a" stroke-width="1.0"/>
<line x1="489.85" y1="404.71" x2="489.85" y2="429.00" stroke="#1a1a1a" stroke-width="1.0"/>
<line x1="483.35" y1="404.71" x2="496.35" y2="404.71" stroke="#1a1a1a" stroke-width="1.0"/>
<line x1="483.35" y1="429.00" x2="496.35" y2="429.00" stroke="#1a1a1a" stroke-width="1.0"/>
<line x1="509.99" y1="370.16" x2="509.99" y2="400.04" stroke="#1a1a1a" stroke-width="1.0"/>
<line x1="503.49" y1="370.16" x2="516.49" y2="370.16" stroke="#1a1a1a" stroke-width="1.0"/>
<line x1="503.49" y1="400.04" x2="516.49" y2="400.04" stroke="#1a1a1a" stroke-width="1.0"/>
<line x1="416.00" y1="467.29" x2="416.00" y2="471.03" stroke="#1a1a1a" stroke-width="1.0"/>
<line x1="409.50" y1="467.29" x2="422.50" y2="467.29" stroke="#1a1a1a" stroke-width="1.0"/>
<line x1="409.50" y1="471.03" x2="422.50" y2="471.03" stroke="#1a1a1a" stroke-width="1.0"/>
<line x1="429.42" y1="459.82" x2="429.42" y2="465.42" stroke="#1a1a1a" stroke-width="1.0"/>
<line x1="422.92" y1="459.82" x2="435.92" y2="459.82" stroke="#1a1a1a" stroke-width="1.0"/>
<line x1="422.92" y1="465.42" x2="435.92" y2="465.42" stroke="#1a1a1a" stroke-width="1.0"/>
<line x1="442.85" y1="448.99" x2="442.85" y2="458.33" stroke="#1a1a1a" stroke-width="1.0"/>
<line x1="436.35" y1="448.99" x2="449.35" y2="448.99" stroke="#1a1a1a" stroke-width="1.0"/>
<line x1="436.35" y1="458.33" x2="449.35" y2="458.33" stroke="#1a1a1a" stroke-width="1.0"/>
<line x1="462.99" y1="429.93" x2="462.99" y2="441.14" stroke="#1a1a1a" stroke-width="1.0"/>
<line x1="456.49" y1="429.93" x2="469.49" y2="429.93" stroke="#1a1a1a" stroke-width="1.0"/>
<line x1="456.49" y1="441.14" x2="469.49" y2="441.14" stroke="#1a1a1a" stroke-width="1.0"/>
<line x1="476.42" y1="402.85" x2="476.42" y2="430.87" stroke="#1a1a1a" stroke-width="1.0"/>
<line x1="469.92" y1="402.85" x2="482.92" y2="402.85" stroke="#1a1a1a" stroke-width="1.0"/>
<line x1="469.92" y1="430.87" x2="482.92" y2="430.87" stroke="#1a1a1a" stroke-width="1.0"/>
<line x1="489.85" y1="375.76" x2="489.85" y2="400.04" stroke="#1a1a1a" stroke-width="1.0"/>
<line x1="483.35" y1="375.76" x2="496.35" y2="375.76" stroke="#1a1a1a" stroke-width="1.0"/>
<line x1="483.35" y1="400.04" x2="496.35" y2="400.04" stroke="#1a1a1a" stroke-width="1.0"/>
<line x1="509.99" y1="320.84" x2="509.99" y2="344.00" stroke="#1a1a1a" stroke-width="1.0"/>
<line x1="503.49" y1="320.84" x2="516.49" y2="320.84" stroke="#1a1a1a" stroke-width="1.0"/>
<line x1="503.49" y1="344.00" x2="516.49" y2="344.00" stroke="#1a1a1a" stroke-width="1.0"/>
<rect x="317.10" y="473.60" width="9.80" height="9.80" fill="#111"/>
<rect x="343.96" y="473.60" width="9.80" height="9.80" fill="#111"/>
<rect x="364.10" y="472.85" width="9.80" height="9.80" fill="#111"/>
<rect x="377.53" y="472.11" width="9.80" height="9.80" fill="#111"/>
<rect x="390.95" y="471.17" width="9.80" height="9.80" fill="#111"/>
<rect x="411.10" y="469.30" width="9.80" height="9.80" fill="#111"/>
<rect x="424.52" y="466.31" width="9.80" height="9.80" fill="#111"/>
<rect x="437.95" y="462.39" width="9.80" height="9.80" fill="#111"/>
<rect x="458.09" y="449.32" width="9.80" height="9.80" fill="#111"/>
<rect x="471.52" y="446.70" width="9.80" height="9.80" fill="#111"/>
<rect x="484.95" y="435.49" width="9.80" height="9.80" fill="#111"/>
<rect x="505.09" y="407.29" width="9.80" height="9.80" fill="#111"/>
<polygon points="322.00,473.60 327.14,483.40 316.86,483.40" fill="#111"/>
<polygon points="348.86,473.60 354.00,483.40 343.71,483.40" fill="#111"/>
<polygon points="369.00,472.85 374.14,482.65 363.85,482.65" fill="#111"/>
<polygon points="382.43,472.11 387.57,481.91 377.28,481.91" fill="#111"/>
<polygon points="395.85,471.17 401.00,480.97 390.71,480.97" fill="#111"/>
<polygon points="416.00,467.06 421.14,476.86 410.85,476.86" fill="#111"/>
<polygon points="429.42,462.39 434.57,472.19 424.28,472.19" fill="#111"/>
<polygon points="442.85,457.72 448.00,467.52 437.71,467.52" fill="#111"/>
<polygon points="462.99,447.45 468.14,457.25 457.85,457.25" fill="#111"/>
<polygon points="476.42,432.50 481.57,442.30 471.28,442.30" fill="#111"/>
<polygon points="489.85,411.96 495.00,421.76 484.71,421.76" fill="#111"/>
<polygon points="509.99,380.20 515.14,390.00 504.85,390.00" fill="#111"/>
<circle cx="322.00" cy="478.50" r="4.90" fill="#111"/>
<circle cx="348.86" cy="478.50" r="4.90" fill="#111"/>
<circle cx="369.00" cy="477.75" r="4.90" fill="#111"/>
<circle cx="382.43" cy="477.01" r="4.90" fill="#111"/>
<circle cx="395.85" cy="475.88" r="4.90" fill="#111"/>
<circle cx="416.00" cy="468.04" r="4.90" fill="#111"/>
<circle cx="429.42" cy="463.18" r="4.90" fill="#111"/>
<circle cx="442.85" cy="456.08" r="4.90" fill="#111"/>
<circle cx="462.99" cy="440.21" r="4.90" fill="#111"/>
<circle cx="476.42" cy="420.22" r="4.90" fill="#111"/>
<circle cx="489.85" cy="396.31" r="4.90" fill="#111"/>
<circle cx="509.99" cy="347.74" r="4.90" fill="#111"/>
<polygon points="322.00,473.88 326.62,478.50 322.00,483.12 317.38,478.50" fill="#111"/>
<polygon points="348.86,473.88 353.48,478.50 348.86,483.12 344.23,478.50" fill="#111"/>
<polygon points="369.00,473.13 373.62,477.75 369.00,482.38 364.37,477.75" fill="#111"/>
<polygon points="382.43,472.38 387.05,477.01 382.43,481.63 377.80,477.01" fill="#111"/>
<polygon points="395.85,471.07 400.48,475.70 395.85,480.32 391.23,475.70" fill="#111"/>
<polygon points="416.00,464.54 420.62,469.16 416.00,473.79 411.37,469.16" fill="#111"/>
<polygon points="429.42,458.00 434.05,462.62 429.42,467.25 424.80,462.62" fill="#111"/>
<polygon points="442.85,449.03 447.48,453.66 442.85,458.28 438.23,453.66" fill="#111"/>
<polygon points="462.99,430.91 467.62,435.54 462.99,440.16 458.37,435.54" fill="#111"/>
<polygon points="476.42,412.23 481.05,416.86 476.42,421.48 471.80,416.86" fill="#111"/>
<polygon points="489.85,383.28 494.48,387.90 489.85,392.53 485.23,387.90" fill="#111"/>
<polygon points="509.99,327.80 514.62,332.42 509.99,337.05 505.37,332.42" fill="#111"/>
</svg>
</body></html>
